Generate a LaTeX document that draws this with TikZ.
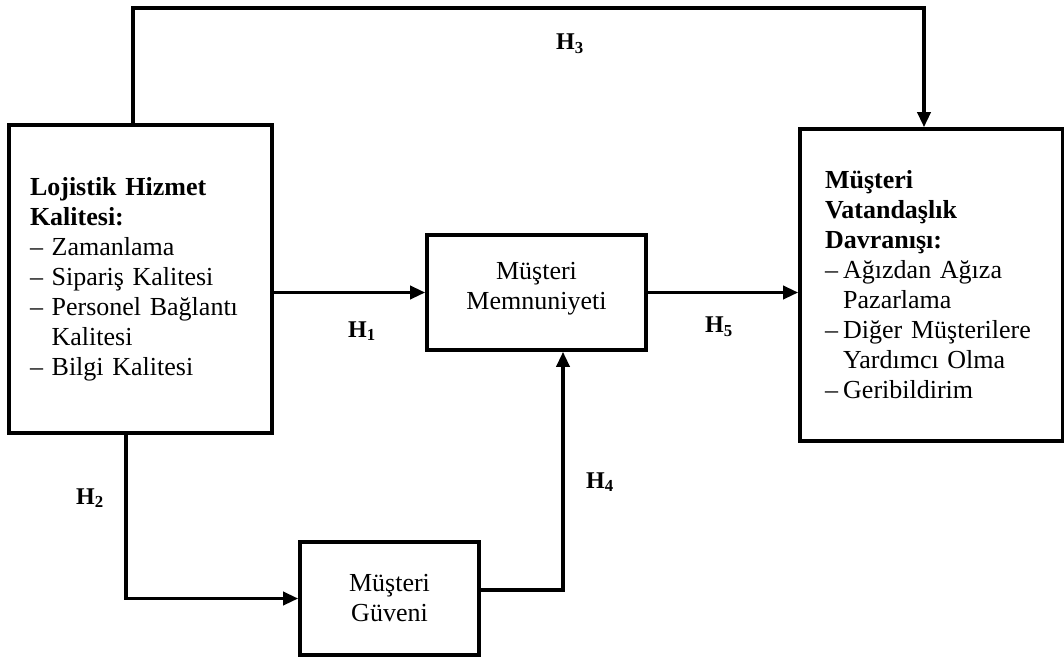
\documentclass[tikz,border=0pt]{standalone}
\usepackage{fontspec}
\setmainfont{Liberation Serif}
\usetikzlibrary{arrows.meta}
\begin{document}
\begin{tikzpicture}[x=1pt,y=-1pt,
  box/.style={draw, line width=3.6pt, rectangle, font=\fontsize{26}{30}\selectfont},
  conn/.style={line width=3.4pt},
  arr/.style={conn, -{Triangle[length=15pt,width=13pt]}},
  hlab/.style={font=\fontsize{24}{28}\selectfont\bfseries, inner sep=0pt}]
\useasboundingbox (0,0) rectangle (1064,657);
\node[box, minimum width=263pt, minimum height=308pt, text width=221pt, inner xsep=21pt, align=left] (lhk) at (140.5,279)
  {\textbf{Lojistik Hizmet}\\ \textbf{Kalitesi:}\\ – Zamanlama\\ – Sipariş Kalitesi\\ – Personel Bağlantı\\ \phantom{– }Kalitesi\\ – Bilgi Kalitesi};
\node[box, minimum width=263pt, minimum height=312pt, text width=213pt, inner xsep=25pt, align=left] (vcb) at (931.5,285)
  {\textbf{Müşteri}\\ \textbf{Vatandaşlık}\\ \textbf{Davranışı:}\\ –\hspace{0.2em}Ağızdan Ağıza\\ \phantom{–\hspace{0.2em}}Pazarlama\\ –\hspace{0.2em}Diğer Müşterilere\\ \phantom{–\hspace{0.2em}}Yardımcı Olma\\ –\hspace{0.2em}Geribildirim};
\node[box, minimum width=219pt, minimum height=115pt, align=center, text depth=14pt] (mm) at (536.5,292.5) {Müşteri\\ Memnuniyeti};
\node[box, minimum width=179pt, minimum height=113pt, align=center] (mg) at (389.5,598.5) {Müşteri\\ Güveni};
\coordinate (t3) at (924,8);
\draw[arr] ([xshift=-7.5pt]lhk.north) |- (t3) -- (t3 |- vcb.north);
\draw[arr] (lhk.east |- mm.west) -- (mm.west);
\draw[arr] (mm.east) -- (mm.east -| vcb.west);
\draw[arr] ([xshift=-14.5pt]lhk.south) |- (mg.west);
\draw[arr] ([yshift=8.5pt]mg.east) -| ([xshift=26.5pt]mm.south);
\node[hlab] (h3) at (570,44) {H\textsubscript{3}};
\node[hlab] (h1) at (362,331) {H\textsubscript{1}};
\node[hlab] (h5) at (719,327) {H\textsubscript{5}};
\node[hlab] (h2) at (90,498) {H\textsubscript{2}};
\node[hlab] (h4) at (600,482) {H\textsubscript{4}};
\end{tikzpicture}
\end{document}
